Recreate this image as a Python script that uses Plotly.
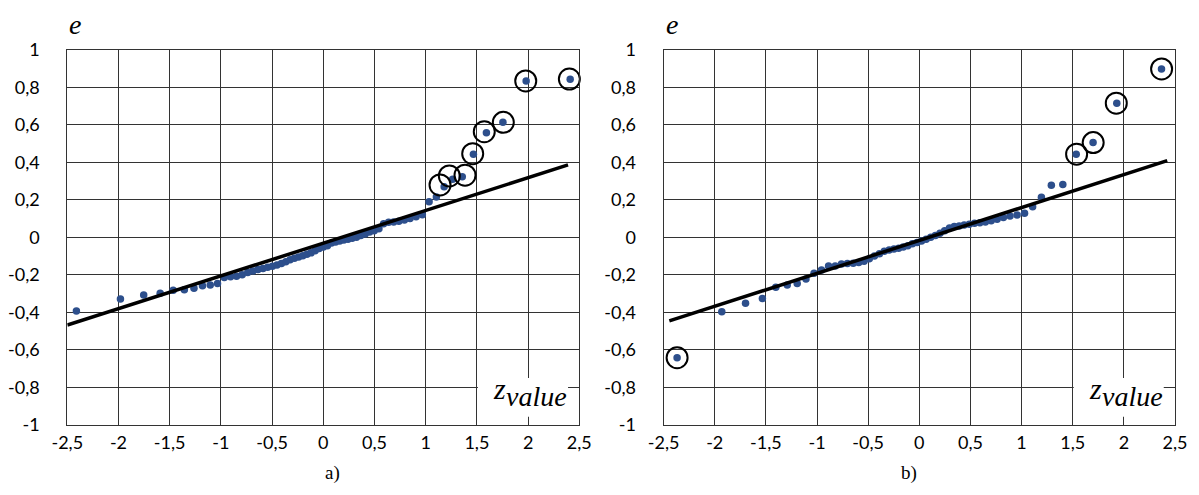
import plotly.graph_objects as go

# ---------------- data: panel a) ----------------
z_a = [-2.411, -1.981, -1.754, -1.593, -1.466, -1.357, -1.263, -1.180, -1.104, -1.033,
       -0.967, -0.906, -0.847, -0.792, -0.738, -0.687, -0.638, -0.589, -0.543, -0.497,
       -0.452, -0.409, -0.366, -0.324, -0.282, -0.241, -0.200, -0.160, -0.120, -0.080,
       -0.040, 0.000, 0.040, 0.080, 0.120, 0.160, 0.200, 0.241, 0.282, 0.324,
       0.366, 0.409, 0.452, 0.497, 0.543, 0.589, 0.638, 0.687, 0.738, 0.792,
       0.847, 0.906, 0.967, 1.033, 1.104, 1.180, 1.263, 1.357, 1.466, 1.593,
       1.754, 1.981, 2.411]
e_a = [-0.393, -0.329, -0.308, -0.299, -0.283, -0.280, -0.272, -0.259, -0.254, -0.246,
       -0.214, -0.210, -0.208, -0.200, -0.188, -0.180, -0.172, -0.166, -0.160, -0.155,
       -0.148, -0.140, -0.130, -0.120, -0.112, -0.105, -0.098, -0.090, -0.083, -0.072,
       -0.060, -0.052, -0.045, -0.030, -0.025, -0.020, -0.015, -0.010, -0.005, 0.000,
       0.010, 0.018, 0.028, 0.035, 0.045, 0.072, 0.080, 0.082, 0.085, 0.092,
       0.100, 0.110, 0.120, 0.190, 0.215, 0.270, 0.309, 0.323, 0.443, 0.558,
       0.613, 0.834, 0.843]
fit_z_a = [-2.5, 2.39]
fit_e_a = [-0.468, 0.386]
circ_z_a = [1.140, 1.231, 1.384, 1.459, 1.572, 1.758, 1.977, 2.403]
circ_e_a = [0.279, 0.327, 0.331, 0.446, 0.563, 0.613, 0.834, 0.844]

# ---------------- data: panel b) ----------------
z_b = [-2.368, -1.931, -1.699, -1.534, -1.403, -1.291, -1.194, -1.108, -1.029, -0.956,
       -0.887, -0.822, -0.761, -0.703, -0.646, -0.592, -0.540, -0.489, -0.439, -0.390,
       -0.342, -0.295, -0.248, -0.202, -0.157, -0.112, -0.067, -0.022, 0.022, 0.067,
       0.112, 0.157, 0.202, 0.248, 0.295, 0.342, 0.390, 0.439, 0.489, 0.540,
       0.592, 0.646, 0.703, 0.761, 0.822, 0.887, 0.956, 1.029, 1.108, 1.194,
       1.291, 1.403, 1.534, 1.699, 1.931, 2.368]
e_b = [-0.642, -0.397, -0.352, -0.326, -0.267, -0.254, -0.246, -0.222, -0.192, -0.174,
       -0.153, -0.153, -0.142, -0.140, -0.138, -0.135, -0.128, -0.115, -0.100, -0.088,
       -0.075, -0.068, -0.063, -0.058, -0.052, -0.045, -0.035, -0.028, -0.020, -0.010,
       0.000, 0.010, 0.022, 0.035, 0.050, 0.057, 0.060, 0.066, 0.070, 0.075,
       0.078, 0.082, 0.088, 0.096, 0.105, 0.114, 0.119, 0.128, 0.163, 0.213,
       0.277, 0.281, 0.443, 0.505, 0.715, 0.898]
fit_z_b = [-2.444, 2.424]
fit_e_b = [-0.446, 0.409]
circ_z_b = [-2.368, 1.538, 1.700, 1.926, 2.369]
circ_e_b = [-0.642, 0.443, 0.505, 0.715, 0.898]

# ---------------- ticks ----------------
x_ticks = [-2.5, -2, -1.5, -1, -0.5, 0, 0.5, 1, 1.5, 2, 2.5]
x_tick_labels = ["-2,5", "-2", "-1,5", "-1", "-0,5", "0", "0,5", "1", "1,5", "2", "2,5"]
y_ticks = [-1, -0.8, -0.6, -0.4, -0.2, 0, 0.2, 0.4, 0.6, 0.8, 1]
y_tick_labels = ["-1", "-0,8", "-0,6", "-0,4", "-0,2", "0", "0,2", "0,4", "0,6", "0,8", "1"]

panel_labels = ["a)", "b)"]

# the page body adds an 8px offset, so the figure is sized/positioned to compensate
OFF = 8
W, H = 1199 - OFF, 495 - OFF
dot_color = "#2d4f8c"
grid_color = "#333333"

fig = go.Figure()
panels = [
    (z_a, e_a, fit_z_a, fit_e_a, circ_z_a, circ_e_a, "x", "y"),
    (z_b, e_b, fit_z_b, fit_e_b, circ_z_b, circ_e_b, "x2", "y2"),
]
for zz, ee, fz, fe, cz, ce, xa, ya in panels:
    fig.add_trace(go.Scatter(x=zz, y=ee, mode="markers", xaxis=xa, yaxis=ya,
                             marker=dict(size=7.5, color=dot_color), showlegend=False))
    fig.add_trace(go.Scatter(x=fz, y=fe, mode="lines", xaxis=xa, yaxis=ya,
                             line=dict(color="black", width=3.5), showlegend=False))
    fig.add_trace(go.Scatter(x=cz, y=ce, mode="markers", xaxis=xa, yaxis=ya,
                             marker=dict(size=21, symbol="circle-open",
                                         color="black", line=dict(width=2, color="black")),
                             showlegend=False, cliponaxis=False))

# pixel layout (page coordinates, shifted by the body offset)
px_a = (67.3 - OFF, 579.3 - OFF)
px_b = (663.6 - OFF, 1175.0 - OFF)
py = (49.8 - OFF, 424.8 - OFF)

def xdom(p):
    return [p[0] / W, p[1] / W]

ydom = [1 - py[1] / H, 1 - py[0] / H]

tickfont = dict(family="Lato, Liberation Sans, sans-serif", size=18, color="black")
axis_common = dict(
    range=[-2.5, 2.5], tickmode="array", tickvals=x_ticks, ticktext=x_tick_labels,
    showgrid=True, gridcolor=grid_color, gridwidth=1, zeroline=False,
    showline=True, linecolor=grid_color, linewidth=1, mirror=True,
    ticks="", tickfont=tickfont, ticklabelstandoff=2, fixedrange=True,
    automargin=False,
)
yaxis_common = dict(
    range=[-1, 1], tickmode="array", tickvals=y_ticks, ticktext=y_tick_labels,
    showgrid=True, gridcolor=grid_color, gridwidth=1, zeroline=False,
    showline=True, linecolor=grid_color, linewidth=1, mirror=True,
    ticks="", tickfont=tickfont, ticklabelstandoff=23, fixedrange=True,
    automargin=False,
)

fig.update_layout(
    width=W, height=H, autosize=False,
    margin=dict(l=0, r=0, t=0, b=0, pad=0, autoexpand=False),
    paper_bgcolor="white", plot_bgcolor="white",
    xaxis=dict(domain=xdom(px_a), anchor="y", **axis_common),
    yaxis=dict(domain=ydom, anchor="x", **yaxis_common),
    xaxis2=dict(domain=xdom(px_b), anchor="y2", **axis_common),
    yaxis2=dict(domain=ydom, anchor="x2", **yaxis_common),
)

serif = "Liberation Serif"
shapes = []
annotations = []
for i, (xa, ya, px) in enumerate([("x", "y", px_a), ("x2", "y2", px_b)]):
    # white box behind the z_value label
    shapes.append(dict(type="rect", xref=xa, yref=ya, x0=1.51, x1=2.39,
                       y0=-0.957, y1=-0.75, fillcolor="white",
                       line=dict(width=0), layer="above"))
    annotations.append(dict(x=1.72, y=-0.805, xref=xa, yref=ya, text="<i>z</i>",
                            showarrow=False, font=dict(family=serif, size=30, color="black")))
    annotations.append(dict(x=2.08, y=-0.85, xref=xa, yref=ya, text="<i>value</i>",
                            showarrow=False, font=dict(family=serif, size=28, color="black")))
    # axis title e
    annotations.append(dict(x=px[0] / W, y=1 - (24 - OFF) / H, xref="paper", yref="paper",
                            xanchor="left", yanchor="middle", text="<i>e</i>",
                            showarrow=False, font=dict(family=serif, size=28, color="black")))
    # panel label
    annotations.append(dict(x=(px[0] + px[1]) / 2 / W, y=1 - (486 - OFF) / H, xref="paper",
                            yref="paper", text=panel_labels[i], showarrow=False,
                            font=dict(family=serif, size=19, color="black")))

fig.update_layout(shapes=shapes, annotations=annotations)
fig.write_html("out.html")
